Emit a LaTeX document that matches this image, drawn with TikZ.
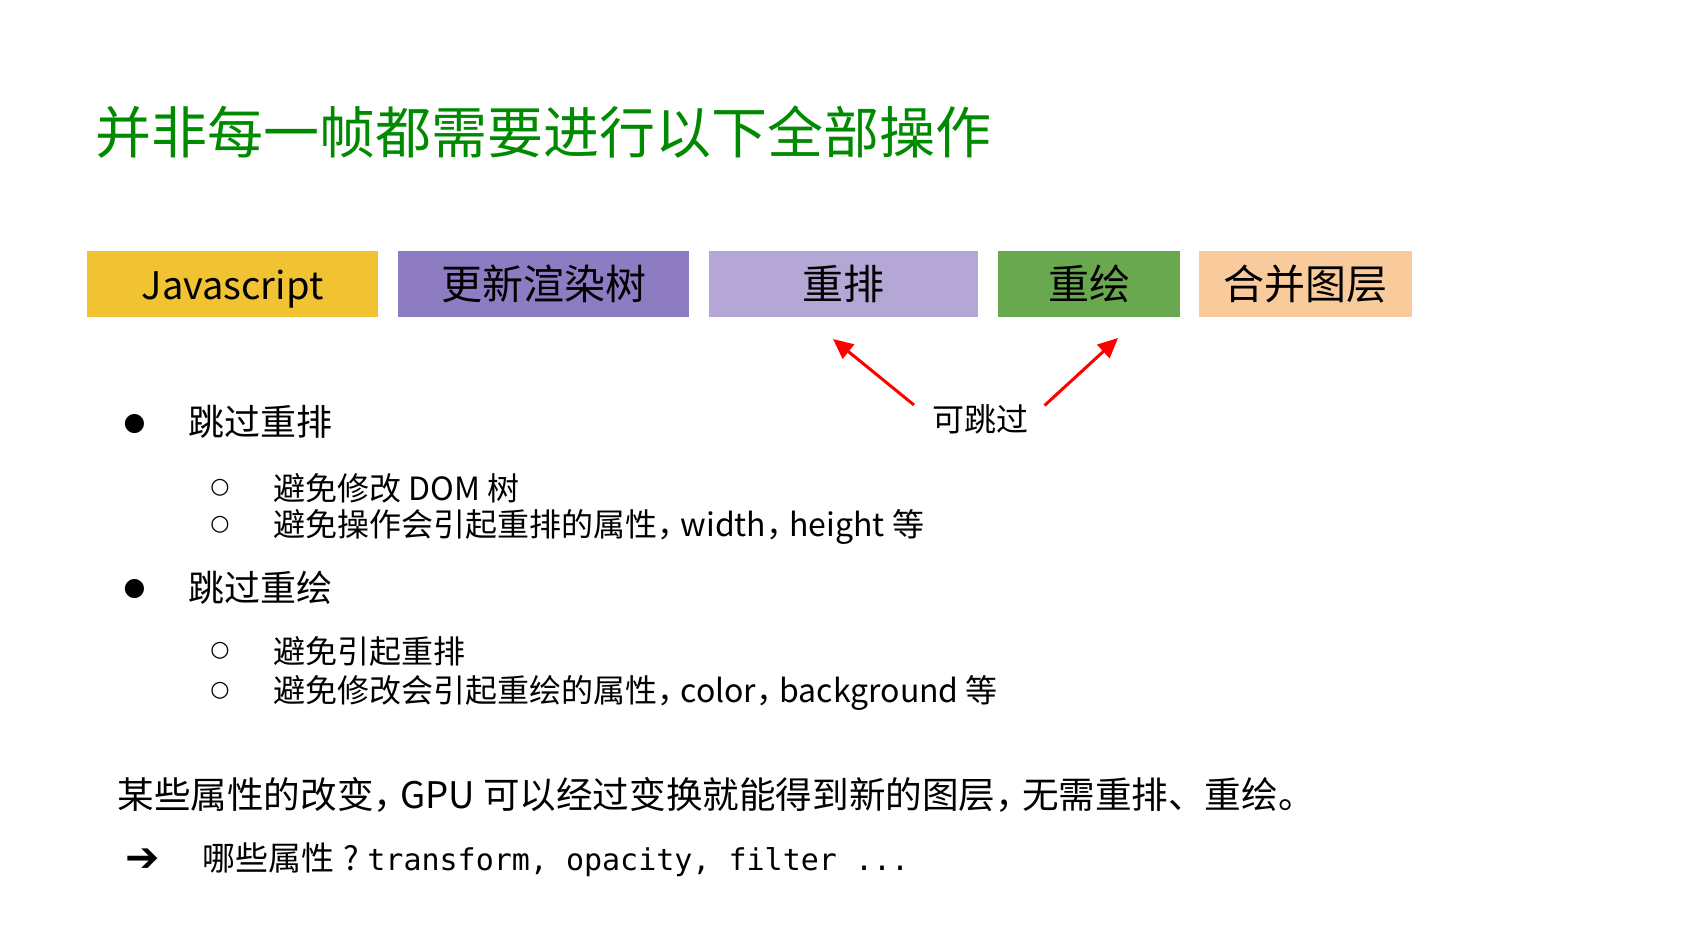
\documentclass[tikz,border=0pt]{standalone}
\usepackage{fontspec}
\setmainfont{Noto Sans CJK SC}
\newfontfamily\symfont{DejaVu Sans}
\newfontfamily\codefont{DejaVu Sans Mono}
\usetikzlibrary{arrows.meta}

% half-width ideographic comma
\newcommand\hcomma{\makebox[0.5em][l]{，}}

\definecolor{titlegreen}{RGB}{0,138,0}
\definecolor{jsgold}{RGB}{241,194,50}
\definecolor{treepurple}{RGB}{142,124,195}
\definecolor{reflowlilac}{RGB}{180,167,214}
\definecolor{paintgreen}{RGB}{106,168,79}
\definecolor{layerpeach}{RGB}{249,203,156}
\definecolor{skipred}{RGB}{255,0,0}

\tikzset{
  stage/.style={minimum height=33pt, inner sep=0pt, text height=18pt, text depth=2.5pt,
    font=\fontsize{20.5}{24}\selectfont, text=black},
  txt/.style={anchor=base west, inner sep=0pt},
  lvlone/.style={txt, font=\fontsize{18}{22}\selectfont},
  lvltwo/.style={txt, font=\fontsize{16}{20}\selectfont},
  dot/.style={anchor=base, inner sep=0pt, font=\symfont\fontsize{12.5}{14}\selectfont},
  ring/.style={anchor=base, inner sep=0pt, font=\symfont\fontsize{11}{13}\selectfont},
  skip/.style={draw=skipred, line width=1.5pt, -{Triangle[length=10pt,width=9pt]}}
}

\begin{document}
\begin{tikzpicture}[x=0.5pt,y=-0.5pt]
  \path[fill=white, use as bounding box] (0,0) rectangle (1684,944);

  % heading
  \node[txt, text=titlegreen, font=\fontsize{28}{32}\selectfont] (title) at (95,153.8)
    {并非每一帧都需要进行以下全部操作};

  % pipeline stages
  \node[stage, fill=jsgold, minimum width=145.5pt, font=\fontsize{19}{23}\selectfont] (js) at (232.5,284) {Javascript};
  \node[stage, fill=treepurple, minimum width=145.5pt] (tree) at (543.5,284) {更新渲染树};
  \node[stage, fill=reflowlilac, minimum width=134.5pt] (reflow) at (843.5,284) {重排};
  \node[stage, fill=paintgreen, minimum width=91pt] (paint) at (1089,284) {重绘};
  \node[stage, fill=layerpeach, minimum width=106.5pt] (layer) at (1305.5,284) {合并图层};

  % skippable stages
  \node[anchor=base, inner sep=0pt, font=\fontsize{16}{19}\selectfont] (skiplbl) at (980.5,431) {可跳过};
  \coordinate (t1) at (914,405);
  \coordinate (h1) at (833,339);
  \coordinate (t2) at (1044.5,405.5);
  \coordinate (h2) at (1118,338);
  \draw[skip] (t1) -- (h1);
  \draw[skip] (t2) -- (h2);

  % first group
  \node[dot] (b1) at (134.5,430.3) {●};
  \node[lvlone] (l1) at (188,435.7) {跳过重排};
  \node[ring] (c1) at (220,493.6) {○};
  \node[lvltwo] (l11) at (273,500) {避免修改 DOM 树};
  \node[ring] (c2) at (220,530.1) {○};
  \node[lvltwo] (l12) at (273,536.5) {避免操作会引起重排的属性\hcomma{} width\hcomma{} height 等};

  % second group
  \node[dot] (b2) at (134.5,595.6) {●};
  \node[lvlone] (l2) at (188,601) {跳过重绘};
  \node[ring] (c3) at (220,656.6) {○};
  \node[lvltwo] (l21) at (273,663) {避免引起重排};
  \node[ring] (c4) at (220,696.1) {○};
  \node[lvltwo] (l22) at (273,702.5) {避免修改会引起重绘的属性\hcomma{} color\hcomma{} background 等};

  % summary
  \node[txt, font=\fontsize{18.3}{22}\selectfont] (sum) at (117,808)
    {某些属性的改变\hcomma{} GPU 可以经过变换就能得到新的图层\hcomma{} 无需重排、重绘。};
  \node[txt, font=\symfont\fontsize{20.5}{24}\selectfont] (arr) at (125,871.5) {➔};
  \node[txt, font=\fontsize{16.5}{20}\selectfont] (q) at (202,870.5)
    {哪些属性\makebox[1em][c]{?}{\codefont\fontsize{15}{18}\selectfont transform, opacity, filter ...}};
\end{tikzpicture}
\end{document}
